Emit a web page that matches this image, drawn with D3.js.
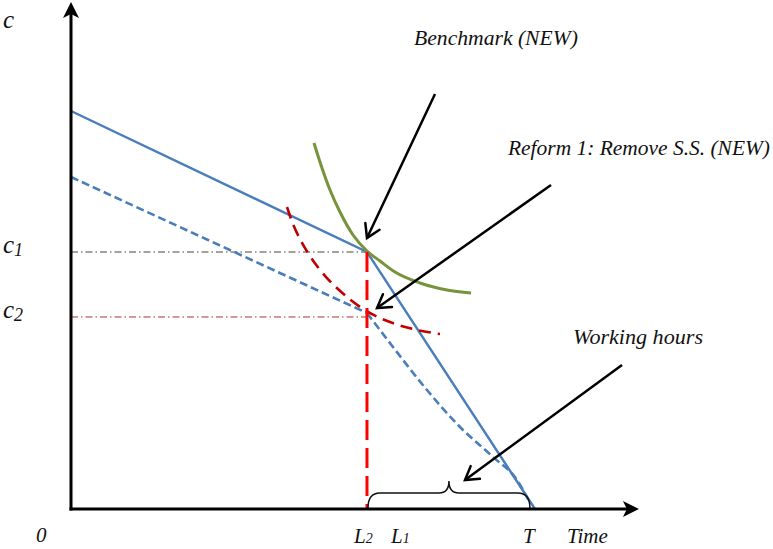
<!DOCTYPE html>
<html><head><meta charset="utf-8">
<script src="https://cdn.jsdelivr.net/npm/d3@7"></script>
<style>
html,body{margin:0;padding:0;background:#fff;}
svg{display:block;}
</style></head>
<body>
<svg id="chart" width="773" height="549"></svg>
<script>
// ---- data (x: time, 0..T=100 ; y: consumption, 0..100) ----
const benchmarkBudget = [[0,78.97],[63.79,50.99],[100,0]];
const reformBudgetLinear = [[0,65.87],[63.79,38.89]];
const reformBudgetCurve = [[63.79,38.89],[69.40,32.14],[76.72,23.61],[83.84,16.27],[90.95,10.32],[96.12,5.75],[98.92,1.19]];
const benchmarkIndiff = [[52.37,72.62],[54.09,67.66],[55.82,63.29],[57.97,58.93],[60.78,54.37],[63.79,51.19],[66.59,49.21],[69.83,47.02],[75.22,44.84],[81.03,43.45],[86.21,42.86]];
const reformIndiff = [[46.55,59.92],[47.84,56.55],[49.35,53.57],[51.08,50.79],[53.02,48.21],[55.17,45.83],[57.54,43.65],[60.56,41.27],[64.01,39.09],[68.75,37.10],[73.71,35.71],[79.53,34.72]];
const levels = {c1:50.99, c2:38.10, L2:63.79, braceEnd:98.9};
const axisMax = [122.4, 100.6];
const annotationLabels = ["Benchmark (NEW)","Reform 1: Remove S.S. (NEW)","Working hours"];
const annotationArrows = [ // [fromX, fromY, toX, toY]
  [78.45,82.34,63.79,53.77],
  [103.45,64.29,65.95,39.88],
  [118.75,28.57,84.91,5.75]
];
const tickLabels = [["L","2",60.99],["L","1",68.97],["T","",97.41],["Time","",106.9]];

const FONT = "Liberation Serif";
const svg = d3.select("#chart");
const x = d3.scaleLinear().domain([0,100]).range([71,535]);
const y = d3.scaleLinear().domain([0,100]).range([509,5]);
const line = d3.line().x(d=>x(d[0])).y(d=>y(d[1]));
const curve = d3.line().x(d=>x(d[0])).y(d=>y(d[1])).curve(d3.curveMonotoneX);

function txt(sel){ return sel.append("text").attr("font-family",FONT).attr("font-style","italic").attr("fill","#111"); }

// dash-dot reference lines
svg.append("line").attr("x1",x(0)).attr("x2",x(levels.L2)).attr("y1",y(levels.c1)).attr("y2",y(levels.c1))
  .attr("stroke","#4a4535").attr("stroke-width",1).attr("stroke-dasharray","7,3,1.5,3");
svg.append("line").attr("x1",x(0)).attr("x2",x(levels.L2)).attr("y1",y(levels.c2)).attr("y2",y(levels.c2))
  .attr("stroke","#b03030").attr("stroke-width",1).attr("stroke-dasharray","7,3,1.5,3");

// budget lines
svg.append("path").attr("d",line(benchmarkBudget)).attr("fill","none").attr("stroke","#4a7ebb").attr("stroke-width",2.4);
svg.append("path").attr("d",line(reformBudgetLinear)).attr("fill","none").attr("stroke","#4a7ebb").attr("stroke-width",2.6).attr("stroke-dasharray","8,4");
svg.append("path").attr("d",curve(reformBudgetCurve)).attr("fill","none").attr("stroke","#4a7ebb").attr("stroke-width",2.6).attr("stroke-dasharray","8,4");

// indifference curves
svg.append("path").attr("d",curve(benchmarkIndiff)).attr("fill","none").attr("stroke","#77933c").attr("stroke-width",3);
svg.append("path").attr("d",curve(reformIndiff)).attr("fill","none").attr("stroke","#c00000").attr("stroke-width",2.6).attr("stroke-dasharray","12,7");

// vertical red dashed line at L2
svg.append("line").attr("x1",x(levels.L2)).attr("x2",x(levels.L2)).attr("y1",y(levels.c1)).attr("y2",y(0))
  .attr("stroke","#ff0000").attr("stroke-width",3).attr("stroke-dasharray","20,8");

// brace
{
  const x0 = x(levels.L2)+1, x1 = x(levels.braceEnd), xm = (x0+x1)/2;
  const yb = y(0)-1, top = yb-15, tip = yb-27;
  const p = `M${x0},${yb} Q${x0},${top} ${x0+12},${top} L${xm-10},${top} Q${xm},${top} ${xm},${tip} Q${xm},${top} ${xm+10},${top} L${x1-12},${top} Q${x1},${top} ${x1},${yb}`;
  svg.append("path").attr("d",p).attr("fill","none").attr("stroke","#111").attr("stroke-width",1.5);
}

// axes
const ax = svg.append("g");
ax.append("line").attr("x1",x(0)).attr("x2",x(0)).attr("y1",y(0)+1.5).attr("y2",y(axisMax[1])+10).attr("stroke","#000").attr("stroke-width",3);
ax.append("line").attr("x1",x(0)-1.5).attr("x2",x(axisMax[0])-10).attr("y1",y(0)).attr("y2",y(0)).attr("stroke","#000").attr("stroke-width",3);
{
  const tx = x(0), ty = y(axisMax[1]);
  ax.append("path").attr("d",`M${tx},${ty} L${tx+8},${ty+16} L${tx},${ty+12} L${tx-8},${ty+16} Z`).attr("fill","#000");
  const rx = x(axisMax[0]), ry = y(0);
  ax.append("path").attr("d",`M${rx},${ry} L${rx-16},${ry-8} L${rx-12},${ry} L${rx-16},${ry+8} Z`).attr("fill","#000");
}

// annotation arrows
annotationArrows.forEach(a=>{
  const x0=x(a[0]), y0=y(a[1]), x1=x(a[2]), y1=y(a[3]);
  const ang = Math.atan2(y1-y0, x1-x0);
  const L = 15, spread = 0.55;
  const pA = [x1 - L*Math.cos(ang-spread), y1 - L*Math.sin(ang-spread)];
  const pB = [x1 - L*Math.cos(ang+spread), y1 - L*Math.sin(ang+spread)];
  svg.append("line").attr("x1",x0).attr("y1",y0).attr("x2",x1).attr("y2",y1).attr("stroke","#000").attr("stroke-width",2.5);
  svg.append("path").attr("d",`M${pA[0]},${pA[1]} L${x1},${y1} L${pB[0]},${pB[1]}`).attr("fill","none").attr("stroke","#000").attr("stroke-width",2.5).attr("stroke-linecap","round");
});

// annotation labels
const annPos = [[414,45,164],[508,155,262],[573,344,130]];
annotationLabels.forEach((t,i)=>{
  txt(svg).attr("x",annPos[i][0]).attr("y",annPos[i][1]).attr("font-size",21)
    .attr("textLength",annPos[i][2]).attr("lengthAdjust","spacingAndGlyphs").text(t);
});

// y labels
txt(svg).attr("x",3).attr("y",28).attr("font-size",25).text("c");
[["c","1",levels.c1],["c","2",levels.c2]].forEach(d=>{
  const t = txt(svg).attr("x",3).attr("y",y(d[2])+1).attr("font-size",25);
  t.append("tspan").text(d[0]);
  t.append("tspan").attr("font-size",18).attr("dy",3).text(d[1]);
});

// x labels
txt(svg).attr("x",36).attr("y",542).attr("font-size",21).text("0");
tickLabels.forEach(d=>{
  const t = txt(svg).attr("x",x(d[2])).attr("y",543).attr("font-size",21);
  t.append("tspan").text(d[0]);
  if(d[1]) t.append("tspan").attr("font-size",14).text(d[1]);
});
</script>
</body></html>
